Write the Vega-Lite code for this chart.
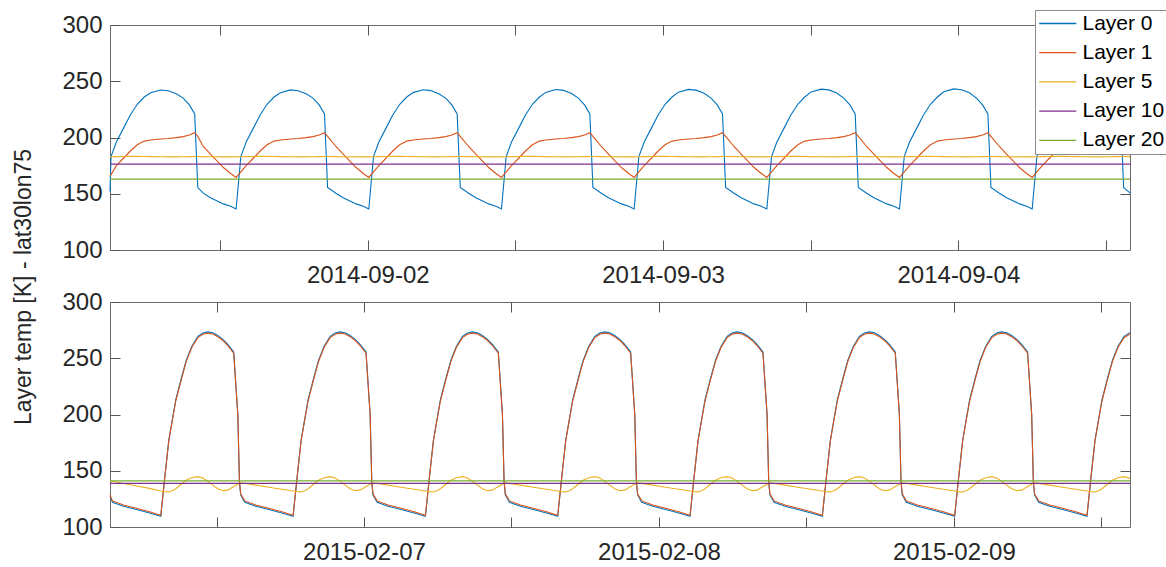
{
"$schema": "https://vega.github.io/schema/vega-lite/v6.json",
"padding": {"left": 13, "top": 9, "right": 0, "bottom": 3},
"spacing": 1,
"resolve": {"scale": {"x": "independent"}},
"title": {"text": "Layer temp [K] - lat30lon75", "orient": "left", "anchor": "middle", "fontSize": 23, "fontWeight": "normal", "color": "#262626", "offset": 25},
"config": {
  "font": "Liberation Sans",
  "view": {"stroke": "#6b6b6b", "strokeWidth": 1},
  "axis": {"grid": false, "labelColor": "#262626", "tickColor": "#555555", "domainColor": "#6b6b6b", "titleColor": "#262626", "labelFontSize": 24},
  "legend": {"symbolType": "M-1,0L3,0", "symbolSize": 342, "symbolStrokeWidth": 1.3, "labelFontSize": 21, "labelColor": "#000000", "labelOffset": 23.5, "rowPadding": 7.2, "padding": 3, "fillColor": "#ffffff", "strokeColor": "#8c8c8c", "cornerRadius": 0}
},
"datasets": {
"top": [
{"t":"2014-09-01T03:03:00Z","Layer 0":152,"Layer 1":165.5,"Layer 5":182.8},
{"t":"2014-09-01T03:08:00Z","Layer 0":183,"Layer 1":167,"Layer 5":182.9},
{"t":"2014-09-01T03:34:00Z","Layer 0":196,"Layer 1":175,"Layer 5":183},
{"t":"2014-09-01T04:11:00Z","Layer 0":209,"Layer 1":182,"Layer 5":183.1},
{"t":"2014-09-01T04:42:00Z","Layer 0":220,"Layer 1":188,"Layer 5":183.2},
{"t":"2014-09-01T05:16:00Z","Layer 0":229.5,"Layer 1":193.5,"Layer 5":183.2},
{"t":"2014-09-01T05:50:00Z","Layer 0":236,"Layer 1":196.8,"Layer 5":183.1},
{"t":"2014-09-01T06:21:00Z","Layer 0":239.7,"Layer 1":197.8,"Layer 5":183},
{"t":"2014-09-01T07:10:00Z","Layer 0":242.2,"Layer 1":198.7,"Layer 5":182.9},
{"t":"2014-09-01T07:47:00Z","Layer 0":241.5,"Layer 1":199.1,"Layer 5":182.8},
{"t":"2014-09-01T08:26:00Z","Layer 0":238.8,"Layer 1":199.9,"Layer 5":182.8},
{"t":"2014-09-01T09:00:00Z","Layer 0":235,"Layer 1":200.8,"Layer 5":182.9},
{"t":"2014-09-01T09:30:00Z","Layer 0":229,"Layer 1":202.2,"Layer 5":183},
{"t":"2014-09-01T09:56:00Z","Layer 0":221,"Layer 1":204.3,"Layer 5":183.1},
{"t":"2014-09-01T10:11:00Z","Layer 0":155.5,"Layer 1":201,"Layer 5":183.1},
{"t":"2014-09-01T10:38:00Z","Layer 0":150.5,"Layer 1":192,"Layer 5":183},
{"t":"2014-09-01T11:13:00Z","Layer 0":146.5,"Layer 1":185.3,"Layer 5":182.9},
{"t":"2014-09-01T12:16:00Z","Layer 0":141,"Layer 1":173.3,"Layer 5":182.8},
{"t":"2014-09-01T12:51:00Z","Layer 0":138.8,"Layer 1":168,"Layer 5":182.8},
{"t":"2014-09-01T13:18:00Z","Layer 0":136.5,"Layer 1":164.5,"Layer 5":182.8},
{"t":"2014-09-01T13:41:00Z","Layer 0":183,"Layer 1":169.5,"Layer 5":182.9},
{"t":"2014-09-01T14:07:00Z","Layer 0":196,"Layer 1":175,"Layer 5":183},
{"t":"2014-09-01T14:44:00Z","Layer 0":209,"Layer 1":182,"Layer 5":183.1},
{"t":"2014-09-01T15:15:00Z","Layer 0":220,"Layer 1":188,"Layer 5":183.2},
{"t":"2014-09-01T15:49:00Z","Layer 0":229.5,"Layer 1":193.5,"Layer 5":183.2},
{"t":"2014-09-01T16:23:00Z","Layer 0":236,"Layer 1":196.8,"Layer 5":183.1},
{"t":"2014-09-01T16:54:00Z","Layer 0":239.8,"Layer 1":197.8,"Layer 5":183},
{"t":"2014-09-01T17:43:00Z","Layer 0":242.3,"Layer 1":198.7,"Layer 5":182.9},
{"t":"2014-09-01T18:20:00Z","Layer 0":241.6,"Layer 1":199.1,"Layer 5":182.8},
{"t":"2014-09-01T18:59:00Z","Layer 0":238.8,"Layer 1":199.9,"Layer 5":182.8},
{"t":"2014-09-01T19:33:00Z","Layer 0":235,"Layer 1":200.8,"Layer 5":182.9},
{"t":"2014-09-01T20:03:00Z","Layer 0":229,"Layer 1":202.2,"Layer 5":183},
{"t":"2014-09-01T20:29:00Z","Layer 0":221,"Layer 1":204.3,"Layer 5":183.1},
{"t":"2014-09-01T20:44:00Z","Layer 0":155.5,"Layer 1":201,"Layer 5":183.1},
{"t":"2014-09-01T21:25:00Z","Layer 0":150.5,"Layer 1":192,"Layer 5":183},
{"t":"2014-09-01T22:00:00Z","Layer 0":146.5,"Layer 1":185.3,"Layer 5":182.9},
{"t":"2014-09-01T23:03:00Z","Layer 0":141,"Layer 1":173.3,"Layer 5":182.8},
{"t":"2014-09-01T23:38:00Z","Layer 0":138.8,"Layer 1":168,"Layer 5":182.8},
{"t":"2014-09-02T00:05:00Z","Layer 0":136.5,"Layer 1":164.5,"Layer 5":182.8},
{"t":"2014-09-02T00:28:00Z","Layer 0":183,"Layer 1":169.5,"Layer 5":182.9},
{"t":"2014-09-02T00:54:00Z","Layer 0":196,"Layer 1":175,"Layer 5":183},
{"t":"2014-09-02T01:31:00Z","Layer 0":209,"Layer 1":182,"Layer 5":183.1},
{"t":"2014-09-02T02:02:00Z","Layer 0":220,"Layer 1":188,"Layer 5":183.2},
{"t":"2014-09-02T02:36:00Z","Layer 0":229.5,"Layer 1":193.5,"Layer 5":183.2},
{"t":"2014-09-02T03:10:00Z","Layer 0":236,"Layer 1":196.8,"Layer 5":183.1},
{"t":"2014-09-02T03:41:00Z","Layer 0":239.9,"Layer 1":197.8,"Layer 5":183},
{"t":"2014-09-02T04:30:00Z","Layer 0":242.4,"Layer 1":198.7,"Layer 5":182.9},
{"t":"2014-09-02T05:07:00Z","Layer 0":241.7,"Layer 1":199.1,"Layer 5":182.8},
{"t":"2014-09-02T05:46:00Z","Layer 0":238.9,"Layer 1":199.9,"Layer 5":182.8},
{"t":"2014-09-02T06:20:00Z","Layer 0":235,"Layer 1":200.8,"Layer 5":182.9},
{"t":"2014-09-02T06:50:00Z","Layer 0":229,"Layer 1":202.2,"Layer 5":183},
{"t":"2014-09-02T07:16:00Z","Layer 0":221,"Layer 1":204.3,"Layer 5":183.1},
{"t":"2014-09-02T07:31:00Z","Layer 0":155.5,"Layer 1":201,"Layer 5":183.1},
{"t":"2014-09-02T08:12:00Z","Layer 0":150.5,"Layer 1":192,"Layer 5":183},
{"t":"2014-09-02T08:47:00Z","Layer 0":146.5,"Layer 1":185.3,"Layer 5":182.9},
{"t":"2014-09-02T09:50:00Z","Layer 0":141,"Layer 1":173.3,"Layer 5":182.8},
{"t":"2014-09-02T10:25:00Z","Layer 0":138.8,"Layer 1":168,"Layer 5":182.8},
{"t":"2014-09-02T10:52:00Z","Layer 0":136.5,"Layer 1":164.5,"Layer 5":182.8},
{"t":"2014-09-02T11:15:00Z","Layer 0":183,"Layer 1":169.5,"Layer 5":182.9},
{"t":"2014-09-02T11:41:00Z","Layer 0":196,"Layer 1":175,"Layer 5":183},
{"t":"2014-09-02T12:18:00Z","Layer 0":209,"Layer 1":182,"Layer 5":183.1},
{"t":"2014-09-02T12:49:00Z","Layer 0":220,"Layer 1":188,"Layer 5":183.2},
{"t":"2014-09-02T13:23:00Z","Layer 0":229.5,"Layer 1":193.5,"Layer 5":183.2},
{"t":"2014-09-02T13:57:00Z","Layer 0":236,"Layer 1":196.8,"Layer 5":183.1},
{"t":"2014-09-02T14:28:00Z","Layer 0":240.1,"Layer 1":197.8,"Layer 5":183},
{"t":"2014-09-02T15:17:00Z","Layer 0":242.6,"Layer 1":198.7,"Layer 5":182.9},
{"t":"2014-09-02T15:54:00Z","Layer 0":241.9,"Layer 1":199.1,"Layer 5":182.8},
{"t":"2014-09-02T16:33:00Z","Layer 0":239.1,"Layer 1":199.9,"Layer 5":182.8},
{"t":"2014-09-02T17:07:00Z","Layer 0":235,"Layer 1":200.8,"Layer 5":182.9},
{"t":"2014-09-02T17:37:00Z","Layer 0":229,"Layer 1":202.2,"Layer 5":183},
{"t":"2014-09-02T18:03:00Z","Layer 0":221,"Layer 1":204.3,"Layer 5":183.1},
{"t":"2014-09-02T18:18:00Z","Layer 0":155.5,"Layer 1":201,"Layer 5":183.1},
{"t":"2014-09-02T18:59:00Z","Layer 0":150.5,"Layer 1":192,"Layer 5":183},
{"t":"2014-09-02T19:34:00Z","Layer 0":146.5,"Layer 1":185.3,"Layer 5":182.9},
{"t":"2014-09-02T20:37:00Z","Layer 0":141,"Layer 1":173.3,"Layer 5":182.8},
{"t":"2014-09-02T21:12:00Z","Layer 0":138.8,"Layer 1":168,"Layer 5":182.8},
{"t":"2014-09-02T21:39:00Z","Layer 0":136.5,"Layer 1":164.5,"Layer 5":182.8},
{"t":"2014-09-02T22:02:00Z","Layer 0":183,"Layer 1":169.5,"Layer 5":182.9},
{"t":"2014-09-02T22:28:00Z","Layer 0":196,"Layer 1":175,"Layer 5":183},
{"t":"2014-09-02T23:05:00Z","Layer 0":209,"Layer 1":182,"Layer 5":183.1},
{"t":"2014-09-02T23:36:00Z","Layer 0":220,"Layer 1":188,"Layer 5":183.2},
{"t":"2014-09-03T00:10:00Z","Layer 0":229.5,"Layer 1":193.5,"Layer 5":183.2},
{"t":"2014-09-03T00:44:00Z","Layer 0":236,"Layer 1":196.8,"Layer 5":183.1},
{"t":"2014-09-03T01:15:00Z","Layer 0":240.3,"Layer 1":197.8,"Layer 5":183},
{"t":"2014-09-03T02:04:00Z","Layer 0":242.8,"Layer 1":198.7,"Layer 5":182.9},
{"t":"2014-09-03T02:41:00Z","Layer 0":242.1,"Layer 1":199.1,"Layer 5":182.8},
{"t":"2014-09-03T03:20:00Z","Layer 0":239.3,"Layer 1":199.9,"Layer 5":182.8},
{"t":"2014-09-03T03:54:00Z","Layer 0":235,"Layer 1":200.8,"Layer 5":182.9},
{"t":"2014-09-03T04:24:00Z","Layer 0":229,"Layer 1":202.2,"Layer 5":183},
{"t":"2014-09-03T04:50:00Z","Layer 0":221,"Layer 1":204.3,"Layer 5":183.1},
{"t":"2014-09-03T05:05:00Z","Layer 0":155.5,"Layer 1":201,"Layer 5":183.1},
{"t":"2014-09-03T05:46:00Z","Layer 0":150.5,"Layer 1":192,"Layer 5":183},
{"t":"2014-09-03T06:21:00Z","Layer 0":146.5,"Layer 1":185.3,"Layer 5":182.9},
{"t":"2014-09-03T07:24:00Z","Layer 0":141,"Layer 1":173.3,"Layer 5":182.8},
{"t":"2014-09-03T07:59:00Z","Layer 0":138.8,"Layer 1":168,"Layer 5":182.8},
{"t":"2014-09-03T08:26:00Z","Layer 0":136.5,"Layer 1":164.5,"Layer 5":182.8},
{"t":"2014-09-03T08:49:00Z","Layer 0":183,"Layer 1":169.5,"Layer 5":182.9},
{"t":"2014-09-03T09:15:00Z","Layer 0":196,"Layer 1":175,"Layer 5":183},
{"t":"2014-09-03T09:52:00Z","Layer 0":209,"Layer 1":182,"Layer 5":183.1},
{"t":"2014-09-03T10:23:00Z","Layer 0":220,"Layer 1":188,"Layer 5":183.2},
{"t":"2014-09-03T10:57:00Z","Layer 0":229.5,"Layer 1":193.5,"Layer 5":183.2},
{"t":"2014-09-03T11:31:00Z","Layer 0":236,"Layer 1":196.8,"Layer 5":183.1},
{"t":"2014-09-03T12:02:00Z","Layer 0":240.5,"Layer 1":197.8,"Layer 5":183},
{"t":"2014-09-03T12:51:00Z","Layer 0":243,"Layer 1":198.7,"Layer 5":182.9},
{"t":"2014-09-03T13:28:00Z","Layer 0":242.3,"Layer 1":199.1,"Layer 5":182.8},
{"t":"2014-09-03T14:07:00Z","Layer 0":239.5,"Layer 1":199.9,"Layer 5":182.8},
{"t":"2014-09-03T14:41:00Z","Layer 0":235,"Layer 1":200.8,"Layer 5":182.9},
{"t":"2014-09-03T15:11:00Z","Layer 0":229,"Layer 1":202.2,"Layer 5":183},
{"t":"2014-09-03T15:37:00Z","Layer 0":221,"Layer 1":204.3,"Layer 5":183.1},
{"t":"2014-09-03T15:52:00Z","Layer 0":155.5,"Layer 1":201,"Layer 5":183.1},
{"t":"2014-09-03T16:33:00Z","Layer 0":150.5,"Layer 1":192,"Layer 5":183},
{"t":"2014-09-03T17:08:00Z","Layer 0":146.5,"Layer 1":185.3,"Layer 5":182.9},
{"t":"2014-09-03T18:11:00Z","Layer 0":141,"Layer 1":173.3,"Layer 5":182.8},
{"t":"2014-09-03T18:46:00Z","Layer 0":138.8,"Layer 1":168,"Layer 5":182.8},
{"t":"2014-09-03T19:13:00Z","Layer 0":136.5,"Layer 1":164.5,"Layer 5":182.8},
{"t":"2014-09-03T19:36:00Z","Layer 0":183,"Layer 1":169.5,"Layer 5":182.9},
{"t":"2014-09-03T20:02:00Z","Layer 0":196,"Layer 1":175,"Layer 5":183},
{"t":"2014-09-03T20:39:00Z","Layer 0":209,"Layer 1":182,"Layer 5":183.1},
{"t":"2014-09-03T21:10:00Z","Layer 0":220,"Layer 1":188,"Layer 5":183.2},
{"t":"2014-09-03T21:44:00Z","Layer 0":229.5,"Layer 1":193.5,"Layer 5":183.2},
{"t":"2014-09-03T22:18:00Z","Layer 0":236,"Layer 1":196.8,"Layer 5":183.1},
{"t":"2014-09-03T22:49:00Z","Layer 0":240.7,"Layer 1":197.8,"Layer 5":183},
{"t":"2014-09-03T23:38:00Z","Layer 0":243.2,"Layer 1":198.7,"Layer 5":182.9},
{"t":"2014-09-04T00:15:00Z","Layer 0":242.5,"Layer 1":199.1,"Layer 5":182.8},
{"t":"2014-09-04T00:54:00Z","Layer 0":239.7,"Layer 1":199.9,"Layer 5":182.8},
{"t":"2014-09-04T01:28:00Z","Layer 0":235,"Layer 1":200.8,"Layer 5":182.9},
{"t":"2014-09-04T01:58:00Z","Layer 0":229,"Layer 1":202.2,"Layer 5":183},
{"t":"2014-09-04T02:24:00Z","Layer 0":221,"Layer 1":204.3,"Layer 5":183.1},
{"t":"2014-09-04T02:39:00Z","Layer 0":155.5,"Layer 1":201,"Layer 5":183.1},
{"t":"2014-09-04T03:20:00Z","Layer 0":150.5,"Layer 1":192,"Layer 5":183},
{"t":"2014-09-04T03:55:00Z","Layer 0":146.5,"Layer 1":185.3,"Layer 5":182.9},
{"t":"2014-09-04T04:58:00Z","Layer 0":141,"Layer 1":173.3,"Layer 5":182.8},
{"t":"2014-09-04T05:33:00Z","Layer 0":138.8,"Layer 1":168,"Layer 5":182.8},
{"t":"2014-09-04T06:00:00Z","Layer 0":136.5,"Layer 1":164.5,"Layer 5":182.8},
{"t":"2014-09-04T06:23:00Z","Layer 0":183,"Layer 1":169.5,"Layer 5":182.9},
{"t":"2014-09-04T06:49:00Z","Layer 0":196,"Layer 1":175,"Layer 5":183},
{"t":"2014-09-04T07:26:00Z","Layer 0":209,"Layer 1":182,"Layer 5":183.1},
{"t":"2014-09-04T07:57:00Z","Layer 0":220,"Layer 1":188,"Layer 5":183.2},
{"t":"2014-09-04T08:31:00Z","Layer 0":229.5,"Layer 1":193.5,"Layer 5":183.2},
{"t":"2014-09-04T09:05:00Z","Layer 0":236,"Layer 1":196.8,"Layer 5":183.1},
{"t":"2014-09-04T09:36:00Z","Layer 0":240.9,"Layer 1":197.8,"Layer 5":183},
{"t":"2014-09-04T10:25:00Z","Layer 0":243.4,"Layer 1":198.7,"Layer 5":182.9},
{"t":"2014-09-04T11:02:00Z","Layer 0":242.7,"Layer 1":199.1,"Layer 5":182.8},
{"t":"2014-09-04T11:41:00Z","Layer 0":239.9,"Layer 1":199.9,"Layer 5":182.8},
{"t":"2014-09-04T12:15:00Z","Layer 0":235,"Layer 1":200.8,"Layer 5":182.9},
{"t":"2014-09-04T12:45:00Z","Layer 0":229,"Layer 1":202.2,"Layer 5":183},
{"t":"2014-09-04T13:11:00Z","Layer 0":221,"Layer 1":204.3,"Layer 5":183.1},
{"t":"2014-09-04T13:26:00Z","Layer 0":155.5,"Layer 1":201,"Layer 5":183.1},
{"t":"2014-09-04T13:57:00Z","Layer 0":150.8,"Layer 1":193.8,"Layer 5":183}
],
"bottom": [
{"t":"2015-02-06T03:20:00Z","Layer 0":127.5,"Layer 1":128.5,"Layer 5":141},
{"t":"2015-02-06T03:32:00Z","Layer 0":122,"Layer 1":123.2,"Layer 5":140.6},
{"t":"2015-02-06T04:26:00Z","Layer 0":118.4,"Layer 1":119.5,"Layer 5":138.7},
{"t":"2015-02-06T05:29:00Z","Layer 0":115.6,"Layer 1":116.6,"Layer 5":136.5},
{"t":"2015-02-06T06:33:00Z","Layer 0":112.5,"Layer 1":113.5,"Layer 5":134.3},
{"t":"2015-02-06T07:28:00Z","Layer 0":109.5,"Layer 1":110.5,"Layer 5":132},
{"t":"2015-02-06T07:48:00Z","Layer 0":145,"Layer 1":145,"Layer 5":131.3},
{"t":"2015-02-06T08:07:00Z","Layer 0":177,"Layer 1":176.5,"Layer 5":131.2},
{"t":"2015-02-06T08:24:00Z","Layer 0":195,"Layer 1":194.5,"Layer 5":132.2},
{"t":"2015-02-06T08:41:00Z","Layer 0":213,"Layer 1":212,"Layer 5":134},
{"t":"2015-02-06T09:08:00Z","Layer 0":232,"Layer 1":231,"Layer 5":138},
{"t":"2015-02-06T09:32:00Z","Layer 0":248,"Layer 1":247,"Layer 5":141.5},
{"t":"2015-02-06T09:59:00Z","Layer 0":260.5,"Layer 1":259.5,"Layer 5":143.8},
{"t":"2015-02-06T10:29:00Z","Layer 0":269.5,"Layer 1":268.3,"Layer 5":144.8},
{"t":"2015-02-06T10:53:00Z","Layer 0":272.5,"Layer 1":271.3,"Layer 5":143.6},
{"t":"2015-02-06T11:17:00Z","Layer 0":273.4,"Layer 1":272.3,"Layer 5":140.8},
{"t":"2015-02-06T11:42:00Z","Layer 0":272.6,"Layer 1":271.6,"Layer 5":137.2},
{"t":"2015-02-06T12:06:00Z","Layer 0":270.2,"Layer 1":269.2,"Layer 5":134},
{"t":"2015-02-06T12:31:00Z","Layer 0":266.8,"Layer 1":265.8,"Layer 5":132.3},
{"t":"2015-02-06T12:55:00Z","Layer 0":262.3,"Layer 1":261.3,"Layer 5":132.8},
{"t":"2015-02-06T13:24:00Z","Layer 0":255.5,"Layer 1":254.5,"Layer 5":136},
{"t":"2015-02-06T13:44:00Z","Layer 0":200,"Layer 1":200,"Layer 5":138},
{"t":"2015-02-06T13:52:00Z","Layer 0":140,"Layer 1":141,"Layer 5":138.8},
{"t":"2015-02-06T13:58:00Z","Layer 0":128.5,"Layer 1":129.5,"Layer 5":139.3},
{"t":"2015-02-06T14:18:00Z","Layer 0":122,"Layer 1":123.2,"Layer 5":138.8},
{"t":"2015-02-06T15:12:00Z","Layer 0":118.4,"Layer 1":119.5,"Layer 5":137.2},
{"t":"2015-02-06T16:15:00Z","Layer 0":115.6,"Layer 1":116.6,"Layer 5":135.4},
{"t":"2015-02-06T17:19:00Z","Layer 0":112.5,"Layer 1":113.5,"Layer 5":133.6},
{"t":"2015-02-06T18:14:00Z","Layer 0":109.5,"Layer 1":110.5,"Layer 5":132},
{"t":"2015-02-06T18:34:00Z","Layer 0":145,"Layer 1":145,"Layer 5":131.3},
{"t":"2015-02-06T18:53:00Z","Layer 0":177,"Layer 1":176.5,"Layer 5":131.2},
{"t":"2015-02-06T19:10:00Z","Layer 0":195,"Layer 1":194.5,"Layer 5":132.2},
{"t":"2015-02-06T19:27:00Z","Layer 0":213,"Layer 1":212,"Layer 5":134},
{"t":"2015-02-06T19:54:00Z","Layer 0":232,"Layer 1":231,"Layer 5":138},
{"t":"2015-02-06T20:18:00Z","Layer 0":248,"Layer 1":247,"Layer 5":141.5},
{"t":"2015-02-06T20:45:00Z","Layer 0":260.5,"Layer 1":259.5,"Layer 5":143.8},
{"t":"2015-02-06T21:15:00Z","Layer 0":269.5,"Layer 1":268.3,"Layer 5":144.8},
{"t":"2015-02-06T21:39:00Z","Layer 0":272.5,"Layer 1":271.3,"Layer 5":143.6},
{"t":"2015-02-06T22:03:00Z","Layer 0":273.4,"Layer 1":272.3,"Layer 5":140.8},
{"t":"2015-02-06T22:28:00Z","Layer 0":272.6,"Layer 1":271.6,"Layer 5":137.2},
{"t":"2015-02-06T22:52:00Z","Layer 0":270.2,"Layer 1":269.2,"Layer 5":134},
{"t":"2015-02-06T23:17:00Z","Layer 0":266.8,"Layer 1":265.8,"Layer 5":132.3},
{"t":"2015-02-06T23:41:00Z","Layer 0":262.3,"Layer 1":261.3,"Layer 5":132.8},
{"t":"2015-02-07T00:10:00Z","Layer 0":255.5,"Layer 1":254.5,"Layer 5":136},
{"t":"2015-02-07T00:30:00Z","Layer 0":200,"Layer 1":200,"Layer 5":138},
{"t":"2015-02-07T00:38:00Z","Layer 0":140,"Layer 1":141,"Layer 5":138.8},
{"t":"2015-02-07T00:44:00Z","Layer 0":128.5,"Layer 1":129.5,"Layer 5":139.3},
{"t":"2015-02-07T01:04:00Z","Layer 0":122,"Layer 1":123.2,"Layer 5":138.8},
{"t":"2015-02-07T01:58:00Z","Layer 0":118.4,"Layer 1":119.5,"Layer 5":137.2},
{"t":"2015-02-07T03:01:00Z","Layer 0":115.6,"Layer 1":116.6,"Layer 5":135.4},
{"t":"2015-02-07T04:05:00Z","Layer 0":112.5,"Layer 1":113.5,"Layer 5":133.6},
{"t":"2015-02-07T05:00:00Z","Layer 0":109.5,"Layer 1":110.5,"Layer 5":132},
{"t":"2015-02-07T05:20:00Z","Layer 0":145,"Layer 1":145,"Layer 5":131.3},
{"t":"2015-02-07T05:39:00Z","Layer 0":177,"Layer 1":176.5,"Layer 5":131.2},
{"t":"2015-02-07T05:56:00Z","Layer 0":195,"Layer 1":194.5,"Layer 5":132.2},
{"t":"2015-02-07T06:13:00Z","Layer 0":213,"Layer 1":212,"Layer 5":134},
{"t":"2015-02-07T06:40:00Z","Layer 0":232,"Layer 1":231,"Layer 5":138},
{"t":"2015-02-07T07:04:00Z","Layer 0":248,"Layer 1":247,"Layer 5":141.5},
{"t":"2015-02-07T07:31:00Z","Layer 0":260.5,"Layer 1":259.5,"Layer 5":143.8},
{"t":"2015-02-07T08:01:00Z","Layer 0":269.5,"Layer 1":268.3,"Layer 5":144.8},
{"t":"2015-02-07T08:25:00Z","Layer 0":272.5,"Layer 1":271.3,"Layer 5":143.6},
{"t":"2015-02-07T08:49:00Z","Layer 0":273.4,"Layer 1":272.3,"Layer 5":140.8},
{"t":"2015-02-07T09:14:00Z","Layer 0":272.6,"Layer 1":271.6,"Layer 5":137.2},
{"t":"2015-02-07T09:38:00Z","Layer 0":270.2,"Layer 1":269.2,"Layer 5":134},
{"t":"2015-02-07T10:03:00Z","Layer 0":266.8,"Layer 1":265.8,"Layer 5":132.3},
{"t":"2015-02-07T10:27:00Z","Layer 0":262.3,"Layer 1":261.3,"Layer 5":132.8},
{"t":"2015-02-07T10:56:00Z","Layer 0":255.5,"Layer 1":254.5,"Layer 5":136},
{"t":"2015-02-07T11:16:00Z","Layer 0":200,"Layer 1":200,"Layer 5":138},
{"t":"2015-02-07T11:24:00Z","Layer 0":140,"Layer 1":141,"Layer 5":138.8},
{"t":"2015-02-07T11:30:00Z","Layer 0":128.5,"Layer 1":129.5,"Layer 5":139.3},
{"t":"2015-02-07T11:50:00Z","Layer 0":122,"Layer 1":123.2,"Layer 5":138.8},
{"t":"2015-02-07T12:44:00Z","Layer 0":118.4,"Layer 1":119.5,"Layer 5":137.2},
{"t":"2015-02-07T13:47:00Z","Layer 0":115.6,"Layer 1":116.6,"Layer 5":135.4},
{"t":"2015-02-07T14:51:00Z","Layer 0":112.5,"Layer 1":113.5,"Layer 5":133.6},
{"t":"2015-02-07T15:46:00Z","Layer 0":109.5,"Layer 1":110.5,"Layer 5":132},
{"t":"2015-02-07T16:06:00Z","Layer 0":145,"Layer 1":145,"Layer 5":131.3},
{"t":"2015-02-07T16:25:00Z","Layer 0":177,"Layer 1":176.5,"Layer 5":131.2},
{"t":"2015-02-07T16:42:00Z","Layer 0":195,"Layer 1":194.5,"Layer 5":132.2},
{"t":"2015-02-07T16:59:00Z","Layer 0":213,"Layer 1":212,"Layer 5":134},
{"t":"2015-02-07T17:26:00Z","Layer 0":232,"Layer 1":231,"Layer 5":138},
{"t":"2015-02-07T17:50:00Z","Layer 0":248,"Layer 1":247,"Layer 5":141.5},
{"t":"2015-02-07T18:17:00Z","Layer 0":260.5,"Layer 1":259.5,"Layer 5":143.8},
{"t":"2015-02-07T18:47:00Z","Layer 0":269.5,"Layer 1":268.3,"Layer 5":144.8},
{"t":"2015-02-07T19:11:00Z","Layer 0":272.5,"Layer 1":271.3,"Layer 5":143.6},
{"t":"2015-02-07T19:35:00Z","Layer 0":273.4,"Layer 1":272.3,"Layer 5":140.8},
{"t":"2015-02-07T20:00:00Z","Layer 0":272.6,"Layer 1":271.6,"Layer 5":137.2},
{"t":"2015-02-07T20:24:00Z","Layer 0":270.2,"Layer 1":269.2,"Layer 5":134},
{"t":"2015-02-07T20:49:00Z","Layer 0":266.8,"Layer 1":265.8,"Layer 5":132.3},
{"t":"2015-02-07T21:13:00Z","Layer 0":262.3,"Layer 1":261.3,"Layer 5":132.8},
{"t":"2015-02-07T21:42:00Z","Layer 0":255.5,"Layer 1":254.5,"Layer 5":136},
{"t":"2015-02-07T22:02:00Z","Layer 0":200,"Layer 1":200,"Layer 5":138},
{"t":"2015-02-07T22:10:00Z","Layer 0":140,"Layer 1":141,"Layer 5":138.8},
{"t":"2015-02-07T22:16:00Z","Layer 0":128.5,"Layer 1":129.5,"Layer 5":139.3},
{"t":"2015-02-07T22:36:00Z","Layer 0":122,"Layer 1":123.2,"Layer 5":138.8},
{"t":"2015-02-07T23:30:00Z","Layer 0":118.4,"Layer 1":119.5,"Layer 5":137.2},
{"t":"2015-02-08T00:33:00Z","Layer 0":115.6,"Layer 1":116.6,"Layer 5":135.4},
{"t":"2015-02-08T01:37:00Z","Layer 0":112.5,"Layer 1":113.5,"Layer 5":133.6},
{"t":"2015-02-08T02:32:00Z","Layer 0":109.5,"Layer 1":110.5,"Layer 5":132},
{"t":"2015-02-08T02:52:00Z","Layer 0":145,"Layer 1":145,"Layer 5":131.3},
{"t":"2015-02-08T03:11:00Z","Layer 0":177,"Layer 1":176.5,"Layer 5":131.2},
{"t":"2015-02-08T03:28:00Z","Layer 0":195,"Layer 1":194.5,"Layer 5":132.2},
{"t":"2015-02-08T03:45:00Z","Layer 0":213,"Layer 1":212,"Layer 5":134},
{"t":"2015-02-08T04:12:00Z","Layer 0":232,"Layer 1":231,"Layer 5":138},
{"t":"2015-02-08T04:36:00Z","Layer 0":248,"Layer 1":247,"Layer 5":141.5},
{"t":"2015-02-08T05:03:00Z","Layer 0":260.5,"Layer 1":259.5,"Layer 5":143.8},
{"t":"2015-02-08T05:33:00Z","Layer 0":269.5,"Layer 1":268.3,"Layer 5":144.8},
{"t":"2015-02-08T05:57:00Z","Layer 0":272.5,"Layer 1":271.3,"Layer 5":143.6},
{"t":"2015-02-08T06:21:00Z","Layer 0":273.4,"Layer 1":272.3,"Layer 5":140.8},
{"t":"2015-02-08T06:46:00Z","Layer 0":272.6,"Layer 1":271.6,"Layer 5":137.2},
{"t":"2015-02-08T07:10:00Z","Layer 0":270.2,"Layer 1":269.2,"Layer 5":134},
{"t":"2015-02-08T07:35:00Z","Layer 0":266.8,"Layer 1":265.8,"Layer 5":132.3},
{"t":"2015-02-08T07:59:00Z","Layer 0":262.3,"Layer 1":261.3,"Layer 5":132.8},
{"t":"2015-02-08T08:28:00Z","Layer 0":255.5,"Layer 1":254.5,"Layer 5":136},
{"t":"2015-02-08T08:48:00Z","Layer 0":200,"Layer 1":200,"Layer 5":138},
{"t":"2015-02-08T08:56:00Z","Layer 0":140,"Layer 1":141,"Layer 5":138.8},
{"t":"2015-02-08T09:02:00Z","Layer 0":128.5,"Layer 1":129.5,"Layer 5":139.3},
{"t":"2015-02-08T09:22:00Z","Layer 0":122,"Layer 1":123.2,"Layer 5":138.8},
{"t":"2015-02-08T10:16:00Z","Layer 0":118.4,"Layer 1":119.5,"Layer 5":137.2},
{"t":"2015-02-08T11:19:00Z","Layer 0":115.6,"Layer 1":116.6,"Layer 5":135.4},
{"t":"2015-02-08T12:23:00Z","Layer 0":112.5,"Layer 1":113.5,"Layer 5":133.6},
{"t":"2015-02-08T13:18:00Z","Layer 0":109.5,"Layer 1":110.5,"Layer 5":132},
{"t":"2015-02-08T13:38:00Z","Layer 0":145,"Layer 1":145,"Layer 5":131.3},
{"t":"2015-02-08T13:57:00Z","Layer 0":177,"Layer 1":176.5,"Layer 5":131.2},
{"t":"2015-02-08T14:14:00Z","Layer 0":195,"Layer 1":194.5,"Layer 5":132.2},
{"t":"2015-02-08T14:31:00Z","Layer 0":213,"Layer 1":212,"Layer 5":134},
{"t":"2015-02-08T14:58:00Z","Layer 0":232,"Layer 1":231,"Layer 5":138},
{"t":"2015-02-08T15:22:00Z","Layer 0":248,"Layer 1":247,"Layer 5":141.5},
{"t":"2015-02-08T15:49:00Z","Layer 0":260.5,"Layer 1":259.5,"Layer 5":143.8},
{"t":"2015-02-08T16:19:00Z","Layer 0":269.5,"Layer 1":268.3,"Layer 5":144.8},
{"t":"2015-02-08T16:43:00Z","Layer 0":272.5,"Layer 1":271.3,"Layer 5":143.6},
{"t":"2015-02-08T17:07:00Z","Layer 0":273.4,"Layer 1":272.3,"Layer 5":140.8},
{"t":"2015-02-08T17:32:00Z","Layer 0":272.6,"Layer 1":271.6,"Layer 5":137.2},
{"t":"2015-02-08T17:56:00Z","Layer 0":270.2,"Layer 1":269.2,"Layer 5":134},
{"t":"2015-02-08T18:21:00Z","Layer 0":266.8,"Layer 1":265.8,"Layer 5":132.3},
{"t":"2015-02-08T18:45:00Z","Layer 0":262.3,"Layer 1":261.3,"Layer 5":132.8},
{"t":"2015-02-08T19:14:00Z","Layer 0":255.5,"Layer 1":254.5,"Layer 5":136},
{"t":"2015-02-08T19:34:00Z","Layer 0":200,"Layer 1":200,"Layer 5":138},
{"t":"2015-02-08T19:42:00Z","Layer 0":140,"Layer 1":141,"Layer 5":138.8},
{"t":"2015-02-08T19:48:00Z","Layer 0":128.5,"Layer 1":129.5,"Layer 5":139.3},
{"t":"2015-02-08T20:08:00Z","Layer 0":122,"Layer 1":123.2,"Layer 5":138.8},
{"t":"2015-02-08T21:02:00Z","Layer 0":118.4,"Layer 1":119.5,"Layer 5":137.2},
{"t":"2015-02-08T22:05:00Z","Layer 0":115.6,"Layer 1":116.6,"Layer 5":135.4},
{"t":"2015-02-08T23:09:00Z","Layer 0":112.5,"Layer 1":113.5,"Layer 5":133.6},
{"t":"2015-02-09T00:04:00Z","Layer 0":109.5,"Layer 1":110.5,"Layer 5":132},
{"t":"2015-02-09T00:24:00Z","Layer 0":145,"Layer 1":145,"Layer 5":131.3},
{"t":"2015-02-09T00:43:00Z","Layer 0":177,"Layer 1":176.5,"Layer 5":131.2},
{"t":"2015-02-09T01:00:00Z","Layer 0":195,"Layer 1":194.5,"Layer 5":132.2},
{"t":"2015-02-09T01:17:00Z","Layer 0":213,"Layer 1":212,"Layer 5":134},
{"t":"2015-02-09T01:44:00Z","Layer 0":232,"Layer 1":231,"Layer 5":138},
{"t":"2015-02-09T02:08:00Z","Layer 0":248,"Layer 1":247,"Layer 5":141.5},
{"t":"2015-02-09T02:35:00Z","Layer 0":260.5,"Layer 1":259.5,"Layer 5":143.8},
{"t":"2015-02-09T03:05:00Z","Layer 0":269.5,"Layer 1":268.3,"Layer 5":144.8},
{"t":"2015-02-09T03:29:00Z","Layer 0":272.5,"Layer 1":271.3,"Layer 5":143.6},
{"t":"2015-02-09T03:53:00Z","Layer 0":273.4,"Layer 1":272.3,"Layer 5":140.8},
{"t":"2015-02-09T04:18:00Z","Layer 0":272.6,"Layer 1":271.6,"Layer 5":137.2},
{"t":"2015-02-09T04:42:00Z","Layer 0":270.2,"Layer 1":269.2,"Layer 5":134},
{"t":"2015-02-09T05:07:00Z","Layer 0":266.8,"Layer 1":265.8,"Layer 5":132.3},
{"t":"2015-02-09T05:31:00Z","Layer 0":262.3,"Layer 1":261.3,"Layer 5":132.8},
{"t":"2015-02-09T06:00:00Z","Layer 0":255.5,"Layer 1":254.5,"Layer 5":136},
{"t":"2015-02-09T06:20:00Z","Layer 0":200,"Layer 1":200,"Layer 5":138},
{"t":"2015-02-09T06:28:00Z","Layer 0":140,"Layer 1":141,"Layer 5":138.8},
{"t":"2015-02-09T06:34:00Z","Layer 0":128.5,"Layer 1":129.5,"Layer 5":139.3},
{"t":"2015-02-09T06:54:00Z","Layer 0":122,"Layer 1":123.2,"Layer 5":138.8},
{"t":"2015-02-09T07:48:00Z","Layer 0":118.4,"Layer 1":119.5,"Layer 5":137.2},
{"t":"2015-02-09T08:51:00Z","Layer 0":115.6,"Layer 1":116.6,"Layer 5":135.4},
{"t":"2015-02-09T09:55:00Z","Layer 0":112.5,"Layer 1":113.5,"Layer 5":133.6},
{"t":"2015-02-09T10:50:00Z","Layer 0":109.5,"Layer 1":110.5,"Layer 5":132},
{"t":"2015-02-09T11:10:00Z","Layer 0":145,"Layer 1":145,"Layer 5":131.3},
{"t":"2015-02-09T11:29:00Z","Layer 0":177,"Layer 1":176.5,"Layer 5":131.2},
{"t":"2015-02-09T11:46:00Z","Layer 0":195,"Layer 1":194.5,"Layer 5":132.2},
{"t":"2015-02-09T12:03:00Z","Layer 0":213,"Layer 1":212,"Layer 5":134},
{"t":"2015-02-09T12:30:00Z","Layer 0":232,"Layer 1":231,"Layer 5":138},
{"t":"2015-02-09T12:54:00Z","Layer 0":248,"Layer 1":247,"Layer 5":141.5},
{"t":"2015-02-09T13:21:00Z","Layer 0":260.5,"Layer 1":259.5,"Layer 5":143.8},
{"t":"2015-02-09T13:51:00Z","Layer 0":269.5,"Layer 1":268.3,"Layer 5":144.8},
{"t":"2015-02-09T14:20:00Z","Layer 0":272.8,"Layer 1":271.6,"Layer 5":143.2}
],
"topc": [
{"t":"2014-09-01T03:03:00Z","layer":"Layer 10","temp":176.3},
{"t":"2014-09-04T13:57:00Z","layer":"Layer 10","temp":176.3},
{"t":"2014-09-01T03:03:00Z","layer":"Layer 20","temp":163},
{"t":"2014-09-04T13:57:00Z","layer":"Layer 20","temp":163}
],
"bottomc": [
{"t":"2015-02-06T03:20:00Z","layer":"Layer 10","temp":138.8},
{"t":"2015-02-09T14:20:00Z","layer":"Layer 10","temp":138.8},
{"t":"2015-02-06T03:20:00Z","layer":"Layer 20","temp":141},
{"t":"2015-02-09T14:20:00Z","layer":"Layer 20","temp":141}
]
},
"vconcat": [
{
  "width": 1020, "height": 225,
  "resolve": {"axis": {"x": "independent", "y": "independent"}},
  "layer": [
    {
      "data": {"name": "top"},
      "transform": [{"fold": ["Layer 0", "Layer 1", "Layer 5"], "as": ["layer", "temp"]}],
      "mark": {"type": "line", "strokeWidth": 1.1},
      "encoding": {
        "x": {"field": "t", "type": "temporal", "scale": {"type": "utc"},
              "axis": {"orient": "bottom", "title": null, "tickSize": -10, "domain": false, "labelPadding": 23, "values": [
                {"year": 2014, "month": 9, "date": 1, "hours": 12, "utc": true},
                {"year": 2014, "month": 9, "date": 2, "hours": 0, "utc": true},
                {"year": 2014, "month": 9, "date": 2, "hours": 12, "utc": true},
                {"year": 2014, "month": 9, "date": 3, "hours": 0, "utc": true},
                {"year": 2014, "month": 9, "date": 3, "hours": 12, "utc": true},
                {"year": 2014, "month": 9, "date": 4, "hours": 0, "utc": true},
                {"year": 2014, "month": 9, "date": 4, "hours": 12, "utc": true}],
                "labelExpr": "utchours(datum.value) == 0 ? utcFormat(datum.value, '%Y-%m-%d') : ''", "labelOverlap": false, "labelFlush": false}},
        "y": {"field": "temp", "type": "quantitative", "scale": {"domain": [100, 300], "nice": false, "zero": false},
              "axis": {"orient": "left", "values": [100, 150, 200, 250, 300], "tickSize": -10, "domain": false, "labelPadding": 18, "title": null}},
        "color": {"field": "layer", "type": "nominal",
                  "scale": {"domain": ["Layer 0", "Layer 1", "Layer 5", "Layer 10", "Layer 20"], "range": ["#0072BD", "#D95319", "#EDB120", "#7E2F8E", "#77AC30"]},
                  "legend": {"title": null, "orient": "none", "legendX": 925, "legendY": -15}}
      }
    },
    {
      "data": {"name": "topc"},
      "mark": {"type": "line", "strokeWidth": 1.1},
      "encoding": {
        "x": {"field": "t", "type": "temporal",
              "axis": {"orient": "top", "title": null, "labels": false, "domain": false, "tickSize": -10, "values": [
                {"year": 2014, "month": 9, "date": 1, "hours": 12, "utc": true},
                {"year": 2014, "month": 9, "date": 2, "hours": 0, "utc": true},
                {"year": 2014, "month": 9, "date": 2, "hours": 12, "utc": true},
                {"year": 2014, "month": 9, "date": 3, "hours": 0, "utc": true},
                {"year": 2014, "month": 9, "date": 3, "hours": 12, "utc": true},
                {"year": 2014, "month": 9, "date": 4, "hours": 0, "utc": true},
                {"year": 2014, "month": 9, "date": 4, "hours": 12, "utc": true}]}},
        "y": {"field": "temp", "type": "quantitative",
              "axis": {"orient": "right", "title": null, "labels": false, "domain": false, "tickSize": -10, "values": [150, 200, 250]}},
        "color": {"field": "layer", "type": "nominal"}
      }
    }
  ]
},
{
  "width": 1020, "height": 225,
  "resolve": {"axis": {"x": "independent", "y": "independent"}},
  "layer": [
    {
      "data": {"name": "bottom"},
      "transform": [{"fold": ["Layer 0", "Layer 1", "Layer 5"], "as": ["layer", "temp"]}],
      "mark": {"type": "line", "strokeWidth": 1.1},
      "encoding": {
        "x": {"field": "t", "type": "temporal", "scale": {"type": "utc"},
              "axis": {"orient": "bottom", "title": null, "tickSize": -10, "domain": false, "labelPadding": 23, "values": [
                {"year": 2015, "month": 2, "date": 6, "hours": 12, "utc": true},
                {"year": 2015, "month": 2, "date": 7, "hours": 0, "utc": true},
                {"year": 2015, "month": 2, "date": 7, "hours": 12, "utc": true},
                {"year": 2015, "month": 2, "date": 8, "hours": 0, "utc": true},
                {"year": 2015, "month": 2, "date": 8, "hours": 12, "utc": true},
                {"year": 2015, "month": 2, "date": 9, "hours": 0, "utc": true},
                {"year": 2015, "month": 2, "date": 9, "hours": 12, "utc": true}],
                "labelExpr": "utchours(datum.value) == 0 ? utcFormat(datum.value, '%Y-%m-%d') : ''", "labelOverlap": false, "labelFlush": false}},
        "y": {"field": "temp", "type": "quantitative", "scale": {"domain": [100, 300], "nice": false, "zero": false},
              "axis": {"orient": "left", "values": [100, 150, 200, 250, 300], "tickSize": -10, "domain": false, "labelPadding": 18, "title": null}},
        "color": {"field": "layer", "type": "nominal"}
      }
    },
    {
      "data": {"name": "bottomc"},
      "mark": {"type": "line", "strokeWidth": 1.1},
      "encoding": {
        "x": {"field": "t", "type": "temporal",
              "axis": {"orient": "top", "title": null, "labels": false, "domain": false, "tickSize": -10, "values": [
                {"year": 2015, "month": 2, "date": 6, "hours": 12, "utc": true},
                {"year": 2015, "month": 2, "date": 7, "hours": 0, "utc": true},
                {"year": 2015, "month": 2, "date": 7, "hours": 12, "utc": true},
                {"year": 2015, "month": 2, "date": 8, "hours": 0, "utc": true},
                {"year": 2015, "month": 2, "date": 8, "hours": 12, "utc": true},
                {"year": 2015, "month": 2, "date": 9, "hours": 0, "utc": true},
                {"year": 2015, "month": 2, "date": 9, "hours": 12, "utc": true}]}},
        "y": {"field": "temp", "type": "quantitative",
              "axis": {"orient": "right", "title": null, "labels": false, "domain": false, "tickSize": -10, "values": [150, 200, 250]}},
        "color": {"field": "layer", "type": "nominal"}
      }
    }
  ]
}
]
}
